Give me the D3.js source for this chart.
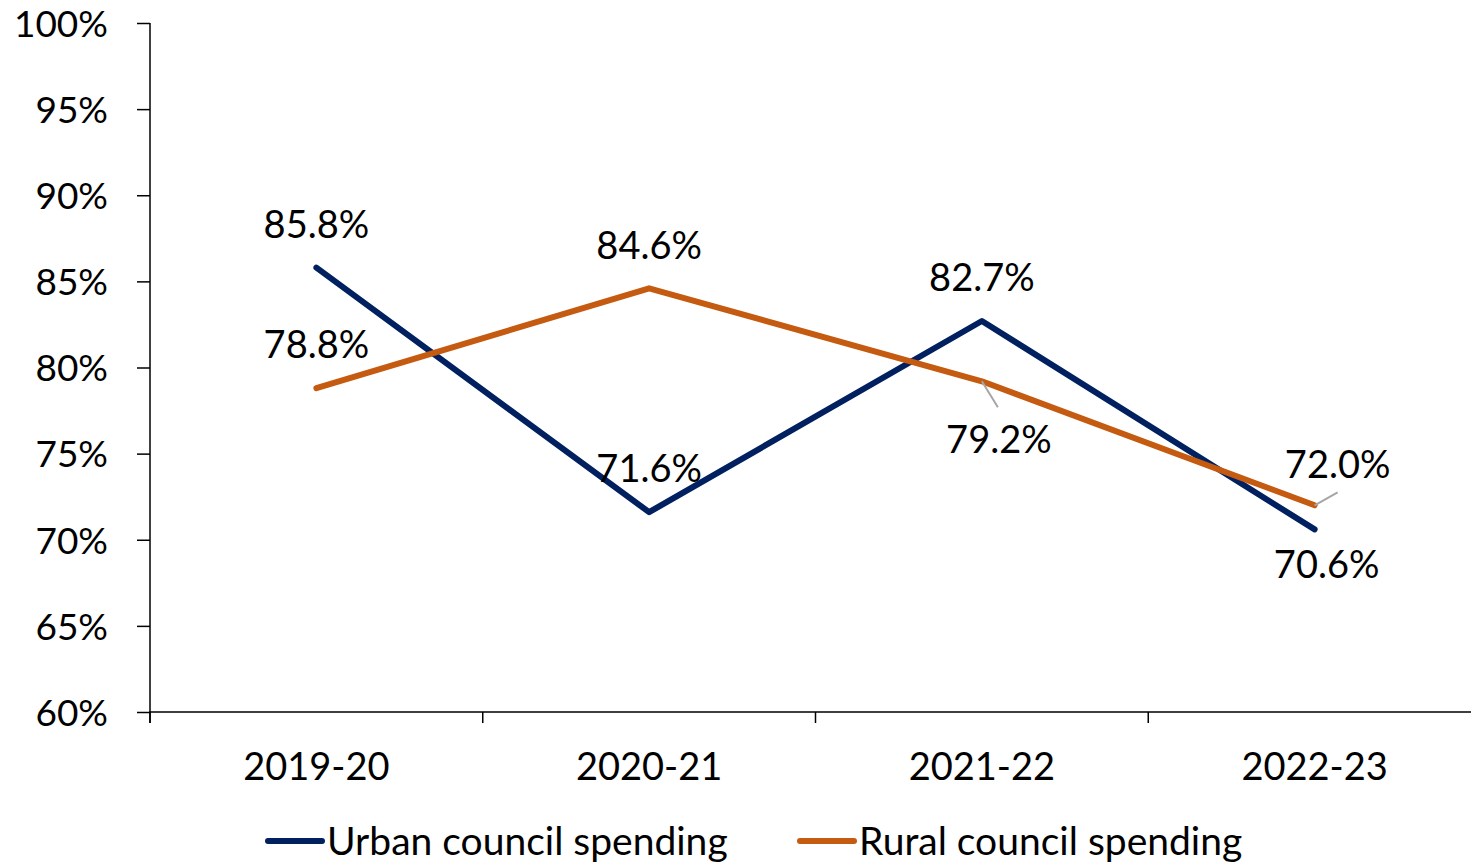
<!DOCTYPE html>
<html><head><meta charset="utf-8">
<script src="https://cdn.jsdelivr.net/npm/d3@7"></script>
<style>body{margin:0;background:#fff}svg{display:block}text{font-family:Lato,"Open Sans",sans-serif;fill:#000}</style>
</head><body>
<svg id="c" width="1471" height="862"></svg>
<script>
const categories = ["2019-20","2020-21","2021-22","2022-23"];
const urban = [85.8, 71.6, 82.7, 70.6];
const rural = [78.8, 84.6, 79.2, 72.0];
const yTicks = [60,65,70,75,80,85,90,95,100];
const seriesNames = ["Urban council spending","Rural council spending"];
const colors = ["#002060","#C55A11"];
// label placement: dx, dy offset of label centre from point; leader line flag
const urbanLabelPos = [[0,-43],[0,-43],[0,-43],[12,35]];
const ruralLabelPos = [[0,-43],[0,-43],[17,58],[23,-41]];
const ruralLeader = [false,false,true,true];

const svg = d3.select("#c");
const x = d3.scaleBand().domain(categories).range([150,1481]);
const y = d3.scaleLinear().domain([60,100]).range([712,23]);
const fs = 38;

const gx = svg.append("g").attr("transform","translate(0,712)")
  .call(d3.axisBottom(x).tickSizeInner(11).tickSizeOuter(11).tickFormat(""));
gx.selectAll(".tick line").attr("transform",`translate(${-x.bandwidth()/2},0)`);
gx.select(".domain").attr("d","M150,11V0H1481");
gx.selectAll("path,line").attr("stroke","#000").attr("stroke-width",1.5);
gx.selectAll(".tick").append("text").text(d=>d).attr("y",55).attr("dy","0.35em")
  .attr("text-anchor","middle").style("font-size",fs+"px").attr("fill","#000");

const gy = svg.append("g").attr("transform","translate(150,0)")
  .call(d3.axisLeft(y).tickValues(yTicks).tickSize(13).tickPadding(29).tickFormat(d=>d+"%"));
gy.select(".domain").attr("d","M0,23V712");
gy.selectAll("path,line").attr("stroke","#000").attr("stroke-width",1.5);
gy.selectAll("text").style("font-size","37px").attr("dy","0.36em").attr("font-family","Lato,'Open Sans',sans-serif").attr("fill","#000");

const line = d3.line().x((d,i)=>x(categories[i])+x.bandwidth()/2).y(d=>y(d));
[urban, rural].forEach((s,k)=>{
  svg.append("path").attr("d",line(s)).attr("fill","none").attr("stroke",colors[k])
    .attr("stroke-width",6).attr("stroke-linejoin","round").attr("stroke-linecap","round");
});

function labels(s, pos, leader){
  s.forEach((v,i)=>{
    const px = x(categories[i])+x.bandwidth()/2, py = y(v);
    const lx = px+pos[i][0], ly = py+pos[i][1];
    if(leader && leader[i]){
      const ex = pos[i][1] > 0 ? px+16 : px+23;
      const ey = pos[i][1] > 0 ? py+26 : py-13;
      svg.append("line").attr("x1",px).attr("y1",py).attr("x2",ex).attr("y2",ey)
        .attr("stroke","#a6a6a6").attr("stroke-width",2);
    }
    svg.append("text").attr("x",lx).attr("y",ly).attr("dy","0.35em").attr("text-anchor","middle")
      .style("font-size",fs+"px").text(v.toFixed(1)+"%");
  });
}
labels(urban, urbanLabelPos, null);
labels(rural, ruralLabelPos, ruralLeader);

const legX = [268, 800];
seriesNames.forEach((n,k)=>{
  svg.append("line").attr("x1",legX[k]).attr("x2",legX[k]+54).attr("y1",841).attr("y2",841)
    .attr("stroke",colors[k]).attr("stroke-width",6).attr("stroke-linecap","round");
  svg.append("text").attr("x",legX[k]+59).attr("y",841).attr("dy","0.35em")
    .style("font-size","39px").text(n);
});
</script>
</body></html>
